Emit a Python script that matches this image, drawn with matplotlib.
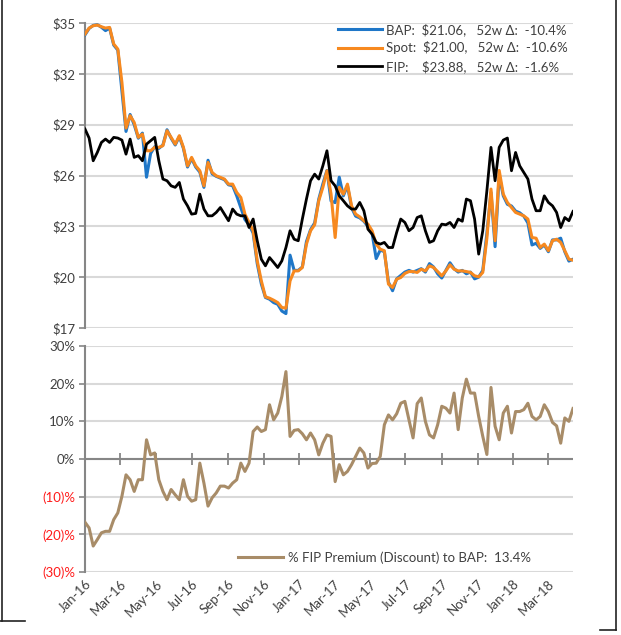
import matplotlib
matplotlib.use("Agg")
import matplotlib.pyplot as plt
import matplotlib.dates as mdates
from matplotlib.ticker import FixedLocator, FuncFormatter, NullFormatter
from matplotlib.lines import Line2D
import pandas as pd

# weekly observations, Jan-2016 .. mid Apr-2018
dates = pd.date_range("2016-01-01", periods=120, freq="7D")

bap = [34.30, 34.68, 34.86, 34.90, 34.75, 34.55, 34.70, 33.70, 33.40, 31.00,
       28.60, 29.60, 29.00, 28.20, 28.50, 25.90, 27.30, 27.70, 27.60, 27.80,
       28.70, 28.20, 27.80, 28.30, 27.60, 26.50, 27.00, 26.50, 26.20, 25.30,
       26.90, 26.10, 25.95, 25.85, 25.75, 25.45, 25.40, 24.80, 24.10, 23.40,
       23.10, 22.60, 20.80, 19.60, 18.80, 18.70, 18.50, 18.40, 18.00, 17.85,
       21.30, 20.40, 20.40, 20.60, 22.10, 22.80, 23.20, 24.60, 25.50, 26.30,
       24.50, 24.40, 25.90, 24.80, 25.40, 24.10, 23.60, 23.50, 23.30, 23.00,
       22.60, 21.10, 21.60, 21.50, 19.70, 19.20, 19.90, 20.10, 20.30, 20.40,
       20.30, 20.40, 20.50, 20.30, 20.80, 20.60, 20.20, 19.95, 20.40, 20.85,
       20.50, 20.30, 20.40, 20.20, 20.30, 19.90, 20.00, 20.40, 22.60, 25.00,
       21.80, 26.00, 24.80, 24.30, 24.20, 23.90, 23.80, 23.60, 23.20, 21.90,
       22.00, 21.70, 21.90, 21.50, 22.20, 22.20, 22.30, 21.50, 20.95, 21.06]

spot = [34.35, 34.70, 34.84, 34.88, 34.78, 34.70, 34.74, 33.76, 33.46, 31.50,
        28.80, 29.53, 29.13, 28.25, 28.44, 27.46, 27.46, 27.66, 27.66, 27.76,
        28.64, 28.25, 27.85, 28.35, 27.66, 26.57, 27.07, 26.57, 26.28, 25.39,
        26.77, 26.18, 25.98, 25.89, 25.79, 25.49, 25.49, 25.00, 24.70, 23.72,
        23.23, 22.74, 20.96, 19.78, 18.84, 18.76, 18.64, 18.50, 18.21, 18.17,
        19.78, 20.37, 20.37, 20.57, 21.95, 22.74, 23.09, 24.51, 25.30, 26.28,
        24.90, 22.34, 25.30, 24.90, 25.49, 24.21, 23.72, 23.56, 23.33, 23.13,
        22.74, 21.95, 21.65, 21.56, 19.59, 19.39, 19.88, 19.98, 20.22, 20.33,
        20.33, 20.28, 20.47, 20.37, 20.67, 20.57, 20.33, 20.08, 20.37, 20.73,
        20.47, 20.37, 20.37, 20.33, 20.28, 20.08, 20.02, 20.28, 22.30, 25.20,
        22.15, 26.30, 24.90, 24.41, 24.11, 23.82, 23.72, 23.62, 23.43, 22.34,
        22.30, 21.75, 21.95, 21.56, 22.15, 22.24, 22.05, 21.56, 21.06, 21.00]

fip = [28.74, 28.21, 26.87, 27.36, 27.95, 28.15, 27.95, 28.25, 28.21, 28.09,
       27.26, 28.15, 27.07, 27.17, 26.87, 27.85, 28.05, 28.25, 26.87, 25.79,
       25.69, 25.39, 25.30, 25.59, 24.61, 24.21, 23.72, 23.76, 24.90, 24.02,
       23.62, 23.62, 23.82, 24.11, 23.72, 23.33, 24.02, 23.72, 23.62, 23.62,
       22.93, 23.43, 22.15, 21.06, 20.67, 21.16, 20.87, 20.57, 20.96, 21.75,
       22.74, 22.24, 22.15, 23.43, 24.61, 25.69, 26.08, 25.79, 26.57, 27.46,
       25.69, 25.39, 24.80, 24.51, 24.21, 24.02, 24.02, 24.41, 23.92, 22.83,
       22.54, 22.05, 21.95, 22.05, 21.75, 21.75, 22.64, 23.43, 23.23, 22.74,
       22.93, 23.52, 23.62, 22.74, 22.05, 22.15, 22.74, 23.13, 23.09, 23.23,
       22.93, 23.43, 23.30, 24.61, 24.51, 23.43, 21.36, 22.74, 25.10, 27.66,
       25.69, 27.66, 28.09, 28.21, 26.28, 27.36, 26.57, 26.18, 25.79, 24.61,
       23.92, 23.92, 24.80, 24.41, 24.21, 23.82, 22.93, 23.52, 23.33, 23.88]

premium = [-16.8, -18.3, -23.1, -21.4, -19.6, -19.2, -19.2, -16.1, -14.3, -9.9,
           -4.2, -5.5, -8.6, -5.5, -5.5, 5.1, 1.1, 1.6, -5.5, -8.6,
           -10.8, -8.1, -9.5, -10.8, -5.5, -9.9, -11.2, -10.8, -1.1, -6.4,
           -12.5, -10.3, -9.0, -7.2, -7.2, -7.7, -6.4, -5.5, -1.1, -3.3,
           -1.1, 7.3, 8.5, 7.3, 7.8, 14.4, 10.4, 12.2, 16.6, 23.2,
           6.0, 7.6, 7.8, 6.7, 5.1, 6.9, 5.1, 1.1, 4.2, 6.4,
           6.0, -6.0, -1.5, -4.2, -3.3, -1.5, 0.7, 2.9, 1.6, -2.4,
           -1.2, -1.1, 0.7, 9.1, 11.7, 10.4, 12.0, 14.8, 15.3, 10.4,
           5.6, 14.7, 16.2, 10.0, 6.4, 5.6, 9.1, 14.0, 13.5, 12.2,
           17.5, 7.8, 16.2, 21.2, 17.5, 17.5, 11.3, 6.0, 1.2, 19.0,
           8.7, 5.1, 12.2, 14.0, 6.9, 12.6, 12.6, 13.1, 14.8, 11.3,
           10.4, 11.3, 14.4, 12.6, 9.7, 8.8, 4.2, 10.9, 10.0, 13.4]

price_ticks = [17, 20, 23, 26, 29, 32, 35]
pct_ticks = [-30, -20, -10, 0, 10, 20, 30]

labels = {
    "bap": "BAP:  $21.06,   52w \u0394:  -10.4%",
    "spot": "Spot:  $21.00,   52w \u0394:  -10.6%",
    "fip": "FIP:    $23.88,   52w \u0394:  -1.6%",
    "prem": "% FIP Premium (Discount) to BAP:  13.4%",
}

TXT = "#404040"
GRID = "#d9d9d9"
AXIS = "#868686"

plt.rcParams["font.family"] = ["Lato", "DejaVu Sans"]
plt.rcParams["font.size"] = 9.5

fig = plt.figure(figsize=(6.21, 6.35), dpi=100)
ax1 = fig.add_axes([85 / 621, 1 - 328 / 635, 488 / 621, 305 / 635])
ax2 = fig.add_axes([85 / 621, 1 - 572 / 635, 488 / 621, 226 / 635])

xmin, xmax = dates[0], dates[-1]


def style_axis(ax):
    for s in ["top", "right", "bottom"]:
        ax.spines[s].set_visible(False)
    ax.spines["left"].set_color(AXIS)
    ax.spines["left"].set_linewidth(1.5)
    ax.grid(axis="y", color=GRID, linewidth=1.5)
    ax.set_axisbelow(True)
    ax.tick_params(axis="y", colors=AXIS, labelcolor=TXT, length=4, width=1.2, pad=3)
    ax.set_xlim(xmin, xmax)


# ---- price panel
ax1.plot(dates, bap, color="#1f77c8", lw=2.2, label=labels["bap"], zorder=3)
ax1.plot(dates, spot, color="#f7891f", lw=2.2, label=labels["spot"], zorder=4)
ax1.plot(dates, fip, color="black", lw=2.0, label=labels["fip"], zorder=5)
style_axis(ax1)
ax1.set_ylim(17, 35)
ax1.yaxis.set_major_locator(FixedLocator(price_ticks))
ax1.yaxis.set_major_formatter(FuncFormatter(lambda v, p: "${:.0f}".format(v)))
ax1.tick_params(axis="x", bottom=False, labelbottom=False)
leg1 = ax1.legend(loc="upper right", bbox_to_anchor=(0.99, 1.0), frameon=False,
                  handlelength=3.4, handletextpad=0.3, labelspacing=0.42,
                  fontsize=9.5, borderaxespad=0.0, borderpad=0.0)
for t in leg1.get_texts():
    t.set_color(TXT)

# ---- premium panel
ax2.axhline(0, color=AXIS, lw=1.5, zorder=2)
ax2.plot(dates, premium, color="#a88c68", lw=2.2, label=labels["prem"], zorder=3)
style_axis(ax2)
ax2.set_ylim(-30, 30)
ax2.yaxis.set_major_locator(FixedLocator(pct_ticks))
ax2.yaxis.set_major_formatter(
    FuncFormatter(lambda v, p: "({:.0f})%".format(-v) if v < 0 else "{:.0f}%".format(v)))
for v, t in zip(pct_ticks, ax2.get_yticklabels()):
    if v < 0:
        t.set_color("#ff1a1a")

ax2.xaxis.set_major_locator(mdates.MonthLocator(bymonth=[1, 3, 5, 7, 9, 11]))
ax2.xaxis.set_major_formatter(mdates.DateFormatter("%b-%y"))
ax2.tick_params(axis="x", length=0, labelcolor=TXT, pad=4)
plt.setp(ax2.get_xticklabels(), rotation=45, ha="right", rotation_mode="anchor")

# tick marks crossing the zero line
zero_ax = ax2.secondary_xaxis(0.5)
zero_ax.xaxis.set_major_locator(mdates.MonthLocator(bymonth=[1, 3, 5, 7, 9, 11]))
zero_ax.xaxis.set_major_formatter(NullFormatter())
zero_ax.tick_params(axis="x", direction="inout", length=8, width=1.3,
                    colors=AXIS, labeltop=False, labelbottom=False)
for s in zero_ax.spines.values():
    s.set_visible(False)

leg2 = ax2.legend(loc="lower left", bbox_to_anchor=(0.313, 0.035), frameon=False,
                  handlelength=3.4, handletextpad=0.4, fontsize=9.5,
                  borderaxespad=0.0, borderpad=0.0)
for t in leg2.get_texts():
    t.set_color(TXT)

# frame of the original screenshot
W, H = 621, 635
for (x0, y0, x1, y1) in [(1.5, 0, 1.5, 621), (0, 621, 25, 621),
                         (616, 0, 616, 630), (600, 630, 616, 630)]:
    fig.add_artist(Line2D([x0 / W, x1 / W], [1 - y0 / H, 1 - y1 / H],
                          color="#222222", lw=1.2, transform=fig.transFigure))

fig.savefig("out.png", dpi=100, facecolor="white")
